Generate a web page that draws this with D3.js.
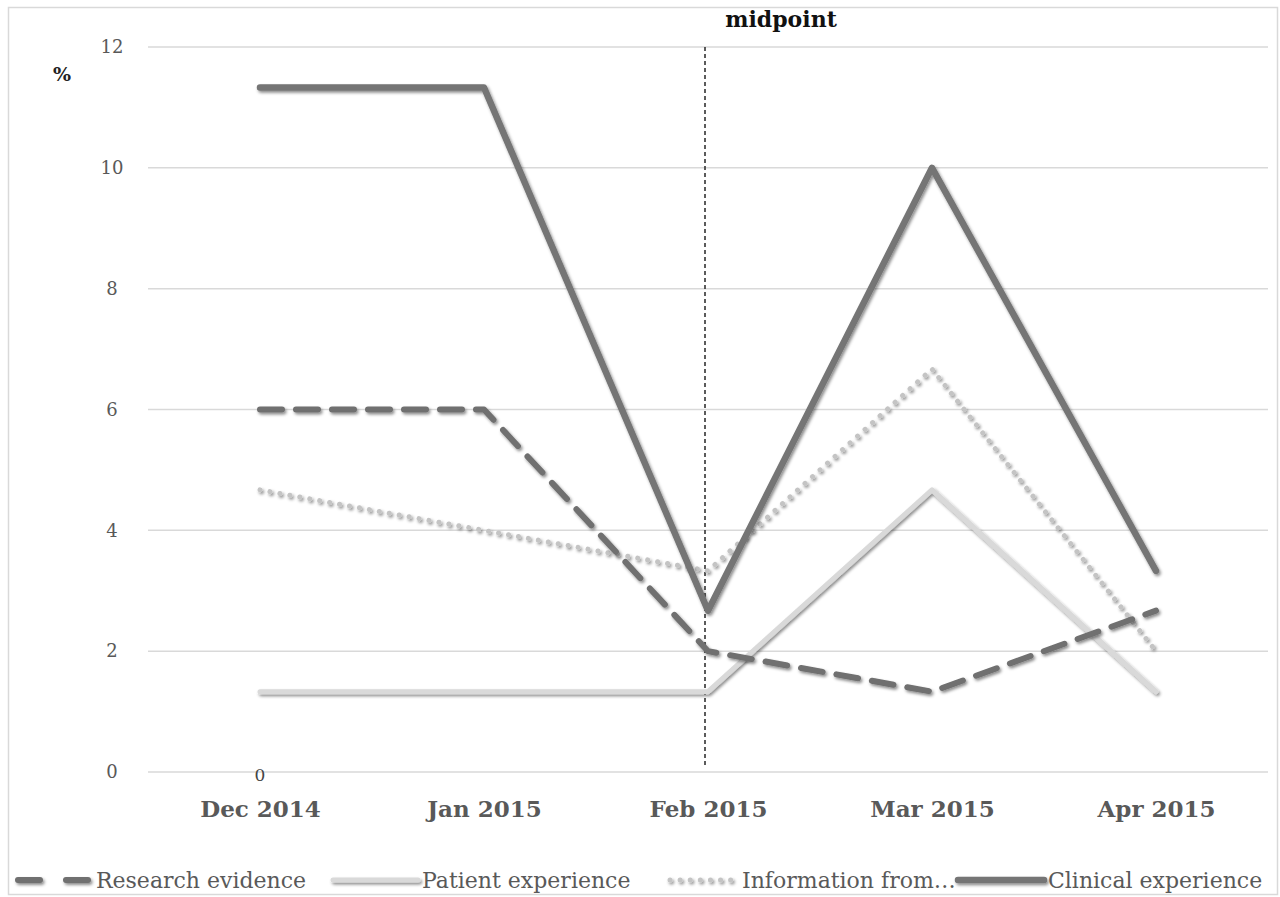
<!DOCTYPE html>
<html>
<head>
<meta charset="utf-8">
<script src="https://cdn.jsdelivr.net/npm/d3@7"></script>
<style>
  html, body { margin: 0; padding: 0; background: #fff; }
  svg { display: block; }
</style>
</head>
<body>
<svg id="chart" width="1280" height="897"></svg>
<script>
// Monthly share (%) of each information source
const months = ["Dec 2014", "Jan 2015", "Feb 2015", "Mar 2015", "Apr 2015"];
const researchEvidence   = [6.0, 6.0, 2.0, 1.33, 2.67];
const patientExperience  = [1.33, 1.33, 1.33, 4.67, 1.33];
const informationFrom    = [4.67, 4.0, 3.33, 6.67, 2.0];
const clinicalExperience = [11.33, 11.33, 2.67, 10.0, 3.33];
const seriesNames = ["Research evidence", "Patient experience", "Information from…", "Clinical experience"];
const yTicks = [0, 2, 4, 6, 8, 10, 12];
const midpointMonth = "Feb 2015";

const svg = d3.select("#chart");
const serif = "'DejaVu Serif', 'Liberation Serif', serif";

// drop shadow used by the series lines (user-space region so flat lines keep it)
const defs = svg.append("defs");
const f = defs.append("filter").attr("id", "shadow")
  .attr("filterUnits", "userSpaceOnUse")
  .attr("x", 0).attr("y", 0).attr("width", 1280).attr("height", 897);
f.append("feDropShadow").attr("dx", 1.5).attr("dy", 2).attr("stdDeviation", 1.6)
  .attr("flood-color", "#000").attr("flood-opacity", 0.45);

// outer frame
svg.append("rect").attr("x", 8.5).attr("y", 7.5).attr("width", 1269).attr("height", 887)
  .attr("fill", "none").attr("stroke", "#d9d9d9").attr("stroke-width", 1.5);

const plot = { left: 148, right: 1268, top: 47, bottom: 772 };
const x = d3.scalePoint().domain(months).range([plot.left, plot.right]).padding(0.5);
const y = d3.scaleLinear().domain([0, 12]).range([plot.bottom, plot.top]);

// gridlines
svg.append("g").selectAll("line").data(yTicks).join("line")
  .attr("x1", plot.left).attr("x2", plot.right)
  .attr("y1", d => y(d)).attr("y2", d => y(d))
  .attr("stroke", "#d9d9d9").attr("stroke-width", 1.5);

// y axis labels
const yAxis = svg.append("g").attr("transform", `translate(${plot.left - 36},0)`)
  .call(d3.axisLeft(y).tickValues(yTicks).tickSize(0).tickPadding(0).tickFormat(d3.format("d")));
yAxis.select(".domain").remove();
yAxis.selectAll("text").attr("font-family", serif).attr("font-size", 18)
  .attr("fill", "#595959").attr("text-anchor", "middle");

// x axis labels
const xAxis = svg.append("g").attr("transform", `translate(0,${plot.bottom + 37})`)
  .call(d3.axisBottom(x).tickSize(0).tickPadding(0));
xAxis.select(".domain").remove();
xAxis.selectAll("text").attr("font-family", serif).attr("font-size", 23)
  .attr("font-weight", "bold").attr("fill", "#595959").attr("dy", "0.35em");

// "%" unit label
svg.append("text").attr("x", 62).attr("y", 81).attr("text-anchor", "middle")
  .attr("font-family", serif).attr("font-size", 19).attr("font-weight", "bold")
  .attr("fill", "#222").text("%");

// midpoint marker
svg.append("line").attr("x1", x(midpointMonth) - 3).attr("x2", x(midpointMonth) - 3)
  .attr("y1", plot.top).attr("y2", plot.bottom - 6)
  .attr("stroke", "#333").attr("stroke-width", 1.6).attr("stroke-dasharray", "4,3");
svg.append("text").attr("x", 781).attr("y", 27).attr("text-anchor", "middle")
  .attr("font-family", serif).attr("font-size", 22).attr("font-weight", "bold")
  .attr("fill", "#111").text("midpoint");

// series styles
const styles = [
  { values: researchEvidence,   color: "#6f6f6f", width: 6,   dash: "22,14" },
  { values: patientExperience,  color: "#d9d9d9", width: 5,   dash: null },
  { values: informationFrom,    color: "#c4c4c4", width: 5,   dash: "0.1,10" },
  { values: clinicalExperience, color: "#747474", width: 6.5, dash: null }
];

const line = d3.line().x((d, i) => x(months[i])).y(d => y(d));

[2, 1, 0, 3].forEach(k => {
  const s = styles[k];
  svg.append("path").datum(s.values)
    .attr("d", line)
    .attr("fill", "none")
    .attr("stroke", s.color)
    .attr("stroke-width", s.width)
    .attr("stroke-linecap", "round")
    .attr("stroke-linejoin", "round")
    .attr("stroke-dasharray", s.dash)
    .attr("filter", "url(#shadow)");
});

// zero data label at the first month
svg.append("text").attr("x", x(months[0])).attr("y", plot.bottom + 9)
  .attr("text-anchor", "middle").attr("font-family", serif).attr("font-size", 17)
  .attr("fill", "#444").text("0");

// legend
const legendY = 880;
const legend = [
  { sx1: 18, sx2: 92, tx: 96, dash: "22,26" },
  { sx1: 333, sx2: 418, tx: 422, dash: null },
  { sx1: 670, sx2: 735, tx: 742, dash: "0.1,10" },
  { sx1: 958, sx2: 1044, tx: 1048, dash: null }
];
legend.forEach((l, k) => {
  const s = styles[k];
  svg.append("line").attr("x1", l.sx1).attr("x2", l.sx2)
    .attr("y1", legendY).attr("y2", legendY)
    .attr("stroke", s.color).attr("stroke-width", s.width)
    .attr("stroke-linecap", "round")
    .attr("stroke-dasharray", l.dash)
    .attr("filter", "url(#shadow)");
  svg.append("text").attr("x", l.tx).attr("y", legendY).attr("dy", "0.35em")
    .attr("font-family", serif).attr("font-size", 22).attr("fill", "#595959")
    .text(seriesNames[k]);
});
</script>
</body>
</html>
